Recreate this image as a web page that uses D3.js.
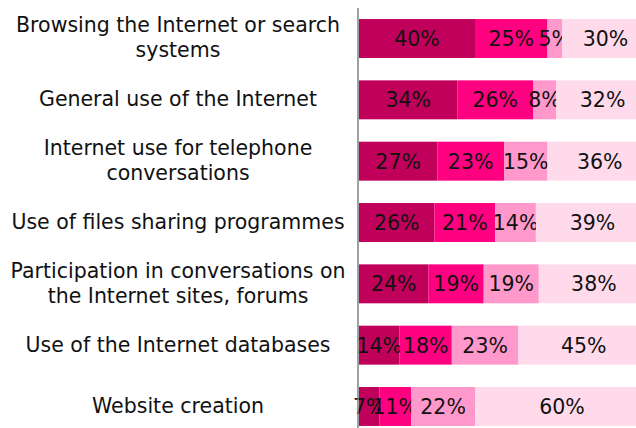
<!DOCTYPE html>
<html>
<head>
<meta charset="utf-8">
<script src="https://cdn.jsdelivr.net/npm/d3@7"></script>
<style>
  body { margin: 0; background: #fff; }
  text { font-family: "DejaVu Sans", Verdana, sans-serif; }
</style>
</head>
<body>
<div id="chart"></div>
<script>
// categories, each split in lines for the wrapped labels
const categories = [
  ["Browsing the Internet or search", "systems"],
  ["General use of the Internet"],
  ["Internet use for telephone", "conversations"],
  ["Use of files sharing programmes"],
  ["Participation in conversations on", "the Internet sites, forums"],
  ["Use of the Internet databases"],
  ["Website creation"]
];
const seriesKeys = ["s1", "s2", "s3", "s4"];
const s1 = [40, 34, 27, 26, 24, 14, 7];
const s2 = [25, 26, 23, 21, 19, 18, 11];
const s3 = [5, 8, 15, 14, 19, 23, 22];
const s4 = [30, 32, 36, 39, 38, 45, 60];
const colors = ["#c0005a", "#ff0080", "#ff99cc", "#ffdaeb"];

const width = 636, height = 428;
const margin = {top: 8, left: 359, right: -13, bottom: 0};
const fontSize = "20.5px";

const data = categories.map((c, i) => ({
  id: i, s1: s1[i], s2: s2[i], s3: s3[i], s4: s4[i]
}));

const svg = d3.select("#chart").append("svg")
  .attr("width", width)
  .attr("height", height);

const x = d3.scaleLinear()
  .domain([0, 100])
  .range([margin.left, width - margin.right]);

const y = d3.scaleBand()
  .domain(data.map(d => d.id))
  .range([margin.top, height + 9])
  .paddingInner(0.365)
  .paddingOuter(0.18);

const stacked = d3.stack().keys(seriesKeys)(data);

const groups = svg.selectAll("g.series")
  .data(stacked)
  .join("g")
    .attr("class", "series")
    .attr("fill", (d, i) => colors[i]);

groups.selectAll("rect")
  .data(d => d)
  .join("rect")
    .attr("x", d => x(d[0]))
    .attr("y", d => y(d.data.id))
    .attr("width", d => x(d[1]) - x(d[0]))
    .attr("height", y.bandwidth());

// value labels centred in each segment
groups.selectAll("text")
  .data(d => d)
  .join("text")
    .attr("x", d => (x(d[0]) + x(d[1])) / 2)
    .attr("y", d => y(d.data.id) + y.bandwidth() / 2)
    .attr("dy", "0.36em")
    .attr("text-anchor", "middle")
    .attr("fill", "#111")
    .style("font-size", fontSize)
    .text(d => (d[1] - d[0]) + "%");

// y axis line
svg.append("line")
  .attr("x1", margin.left - 1)
  .attr("x2", margin.left - 1)
  .attr("y1", margin.top)
  .attr("y2", height)
  .attr("stroke", "#808080")
  .attr("stroke-width", 1.5);

// category labels
const lineH = 25;
svg.selectAll("text.cat")
  .data(data)
  .join("text")
    .attr("class", "cat")
    .attr("text-anchor", "middle")
    .attr("fill", "#111")
    .style("font-size", fontSize)
    .each(function(d, i) {
      const lines = categories[i];
      const cy = y(d.id) + y.bandwidth() / 2;
      const t = d3.select(this);
      lines.forEach((ln, j) => {
        t.append("tspan")
          .attr("x", 178)
          .attr("y", cy + (j - (lines.length - 1) / 2) * lineH - 1)
          .attr("dy", "0.36em")
          .text(ln);
      });
    });
</script>
</body>
</html>
